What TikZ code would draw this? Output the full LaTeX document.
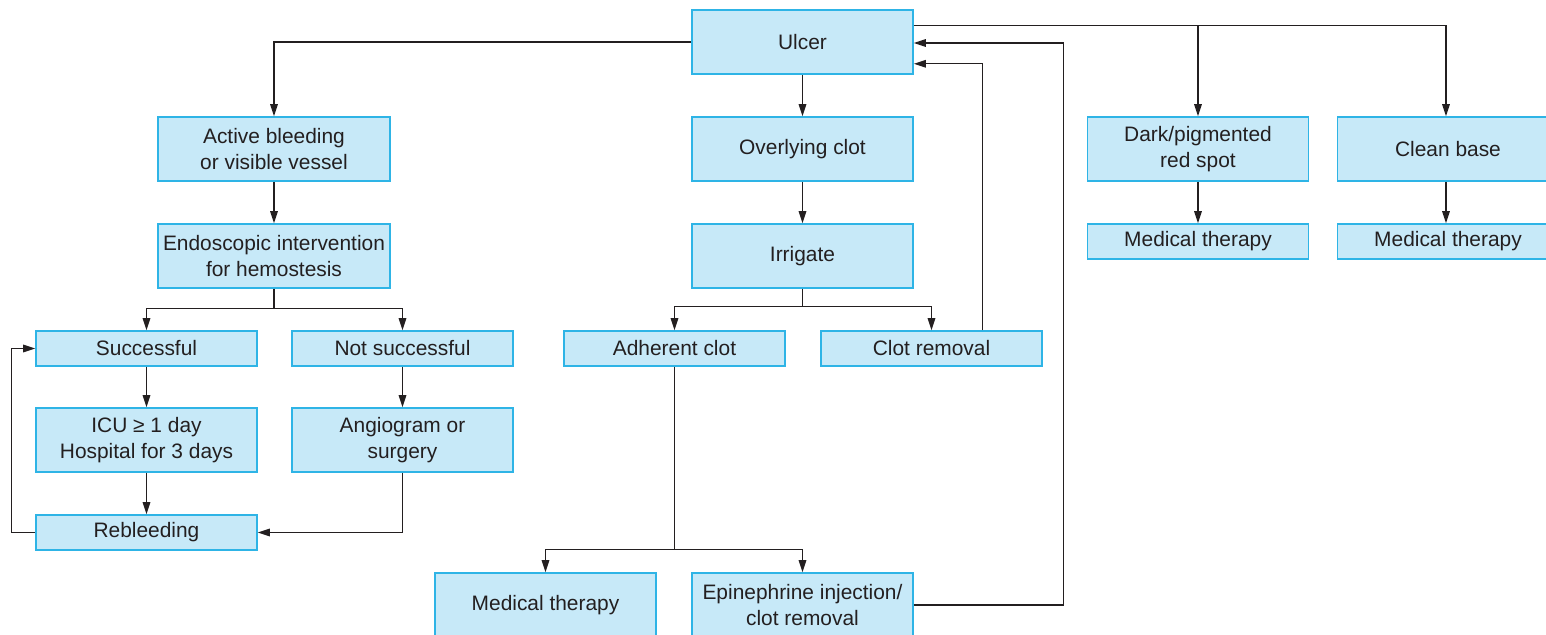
\documentclass[tikz,border=0pt]{standalone}
\usepackage{fontspec}
\setmainfont{Liberation Sans}
\usetikzlibrary{arrows.meta,calc}
\definecolor{boxfill}{HTML}{C7E9F8}
\definecolor{boxline}{HTML}{2EB4E6}
\definecolor{ink}{HTML}{231F20}
\begin{document}
\begin{tikzpicture}[x=0.02cm,y=-0.02cm,
  box/.style={draw=boxline,line width=0.9pt,fill=boxfill,text=ink,align=center,
    inner sep=0pt,minimum width=4.42cm,
    font=\fontsize{11.9}{14.7}\selectfont},
  tall/.style={minimum height=1.28cm},
  short/.style={minimum height=0.70cm},
  wide/.style={minimum width=4.64cm},
  arr/.style={draw=ink,line width=0.8pt,-{Triangle[length=0.24cm,width=0.15cm]}},
  ln/.style={draw=ink,line width=0.8pt}]
\clip (0,0) rectangle (1546,635);
\fill[white] (0,0) rectangle (1546,635);
% nodes
\node[box,tall] (ulcer) at (802.5,42) {Ulcer};
\node[box,tall,wide] (active) at (274,149) {Active bleeding\\or visible vessel};
\node[box,tall,wide] (endo) at (274,256) {Endoscopic intervention\\for hemostesis};
\node[box,tall] (over) at (802.5,149) {Overlying clot};
\node[box,tall] (irrig) at (802.5,256) {Irrigate};
\node[box,tall] (dark) at (1198,149) {Dark/pigmented\\red spot};
\node[box,tall] (clean) at (1448,149) {Clean base};
\node[box,short] (medA) at (1198,241.5) {Medical therapy};
\node[box,short] (medB) at (1448,241.5) {Medical therapy};
\node[box,short] (succ) at (146.5,348.5) {Successful};
\node[box,short] (notsucc) at (402.5,348.5) {Not successful};
\node[box,short] (adher) at (674.5,348.5) {Adherent clot};
\node[box,short] (clotrem) at (931.5,348.5) {Clot removal};
\node[box,tall] (icu) at (146.5,440) {ICU ≥ 1 day\\Hospital for 3 days};
\node[box,tall] (angio) at (402.5,440) {Angiogram or\\surgery};
\node[box,short] (rebleed) at (146.5,532.5) {Rebleeding};
\node[box,tall] (medC) at (545.5,605) {Medical therapy};
\node[box,tall] (epi) at (802.5,605) {Epinephrine injection/\\clot removal};
% connectors
\draw[arr] (ulcer.west) -| (active.north);
\draw[arr] ($(ulcer.north east)+(0,16)$) -| (dark.north);
\draw[arr] ($(ulcer.north east)+(0,16)$) -| ([xshift=-0.04cm]clean.north);
\draw[arr] (ulcer.south) -- (over.north);
\draw[arr] ($(clotrem.north)+(51,0)$) |- ($(ulcer.south east)+(0,-11)$);
\draw[arr] (epi.east) -- ++(150,0) |- ($(ulcer.east)+(0,1)$);
\draw[arr] (over.south) -- (irrig.north);
\draw[arr] (irrig.south) -- ++(0,18) -| (adher.north);
\draw[arr] (irrig.south) -- ++(0,18) -| (clotrem.north);
\draw[arr] (adher.south) -- ++(0,183) -| (medC.north);
\draw[arr] (adher.south) -- ++(0,183) -| (epi.north);
\draw[arr] (active.south) -- (endo.north);
\draw[arr] (endo.south) -- ++(0,20) -| (succ.north);
\draw[arr] (endo.south) -- ++(0,20) -| (notsucc.north);
\draw[arr] (succ.south) -- (icu.north);
\draw[arr] (icu.south) -- (rebleed.north);
\draw[arr] (notsucc.south) -- (angio.north);
\draw[arr] (angio.south) |- (rebleed.east);
\draw[arr] (rebleed.west) -- ++(-24,0) |- (succ.west);
\draw[arr] (dark.south) -- (medA.north);
\draw[arr] ([xshift=-0.04cm]clean.south) -- ([xshift=-0.04cm]medB.north);
\end{tikzpicture}
\end{document}
